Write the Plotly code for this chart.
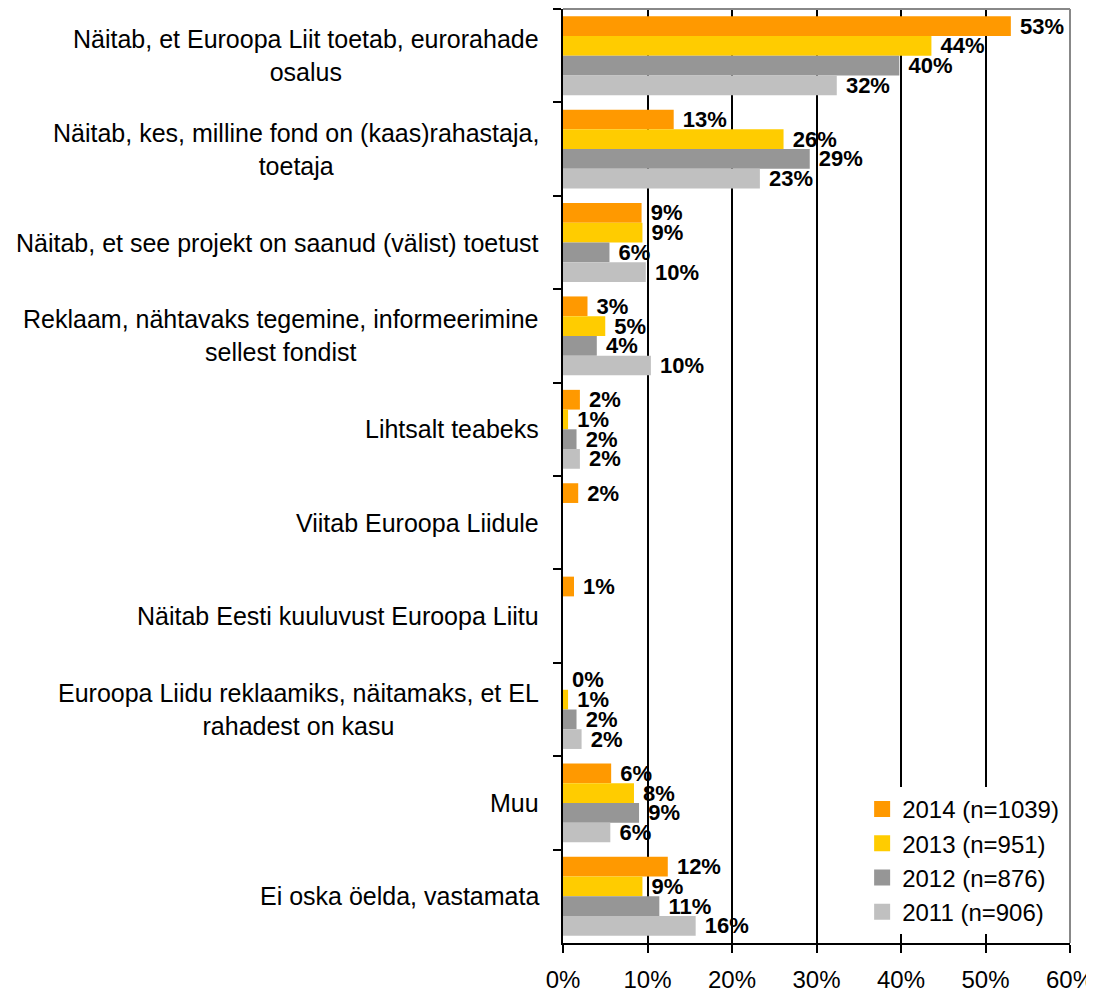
import plotly.graph_objects as go

categories = [
    "Näitab, et Euroopa Liit toetab, eurorahade<br>osalus",
    "Näitab, kes, milline fond on (kaas)rahastaja,<br>toetaja",
    "Näitab, et see projekt on saanud (välist) toetust",
    "Reklaam, nähtavaks tegemine, informeerimine<br>sellest fondist",
    "Lihtsalt teabeks",
    "Viitab Euroopa Liidule",
    "Näitab Eesti kuuluvust Euroopa Liitu",
    "Euroopa Liidu reklaamiks, näitamaks, et EL<br>rahadest on kasu",
    "Muu",
    "Ei oska öelda, vastamata",
]

series_names = ["2014 (n=1039)", "2013 (n=951)", "2012 (n=876)", "2011 (n=906)"]
v2014 = [53.0, 13.1, 9.3, 2.9, 2.0, 1.8, 1.3, 0.0, 5.7, 12.4]
v2013 = [43.6, 26.1, 9.4, 5.0, 0.6, None, None, 0.6, 8.4, 9.4]
v2012 = [39.8, 29.2, 5.5, 4.0, 1.6, None, None, 1.6, 9.0, 11.4]
v2011 = [32.4, 23.3, 9.8, 10.4, 2.0, None, None, 2.2, 5.6, 15.7]
colors = ["#FF9900", "#FFCC00", "#969696", "#C0C0C0"]

x_ticks = [0, 10, 20, 30, 40, 50, 60]

FONT = "Arial, 'Liberation Sans', sans-serif"

fig = go.Figure()
for name, vals, col in zip(series_names, [v2014, v2013, v2012, v2011], colors):
    texts = ["" if v is None else "\u00a0" + f"{round(v)}%" for v in vals]
    fig.add_trace(go.Bar(
        y=categories, x=vals, name=name, orientation="h",
        marker=dict(color=col, line=dict(width=0)),
        text=texts, textposition="outside", constraintext="none",
        textfont=dict(family=FONT, size=22, color="black", weight="bold"),
        cliponaxis=False, legendgroup=name, showlegend=False,
    ))
    # legend entry with a larger square swatch
    fig.add_trace(go.Scatter(
        x=[None], y=[None], mode="markers", name=name, legendgroup=name,
        marker=dict(symbol="square", size=16, color=col), showlegend=True,
    ))

for c in categories:
    fig.add_annotation(
        x=0, xref="paper", y=c, yref="y", text=c, showarrow=False,
        xanchor="right", xshift=-22, align="center",
        font=dict(family=FONT, size=25, color="black"),
    )

fig.add_shape(type="line", xref="paper", yref="paper", x0=0, x1=1, y0=1, y1=1,
              line=dict(color="#888888", width=2), layer="above")
fig.add_shape(type="line", xref="paper", yref="paper", x0=1, x1=1, y0=0, y1=1,
              line=dict(color="#888888", width=2), layer="above")

fig.update_layout(
    width=1086, height=985,
    margin=dict(l=555, r=24, t=1, b=50),
    paper_bgcolor="white", plot_bgcolor="white",
    barmode="group", bargap=0.155, bargroupgap=0,
    font=dict(family=FONT, size=24, color="black"),
    showlegend=True,
    legend=dict(x=0.59, y=0.167, xanchor="left", yanchor="top",
                font=dict(family=FONT, size=24, color="black"),
                bgcolor="white", tracegroupgap=8, traceorder="normal"),
    xaxis=dict(range=[0, 60], tickvals=x_ticks, ticktext=[f"{t}%" for t in x_ticks],
               showgrid=True, gridcolor="black", gridwidth=2, zeroline=False,
               showline=True, linecolor="black", linewidth=2,
               ticks="outside", ticklen=8, tickwidth=2, tickcolor="black",
               ticklabelstandoff=6, ticklabeloverflow="allow",
               tickfont=dict(family=FONT, size=24, color="black")),
    yaxis=dict(autorange="reversed", showticklabels=False, showgrid=False,
               showline=True, linecolor="black", linewidth=2, zeroline=False,
               ticks="outside", ticklen=8, tickwidth=2, tickcolor="black",
               tickson="boundaries"),
)

fig.write_html("out.html")
